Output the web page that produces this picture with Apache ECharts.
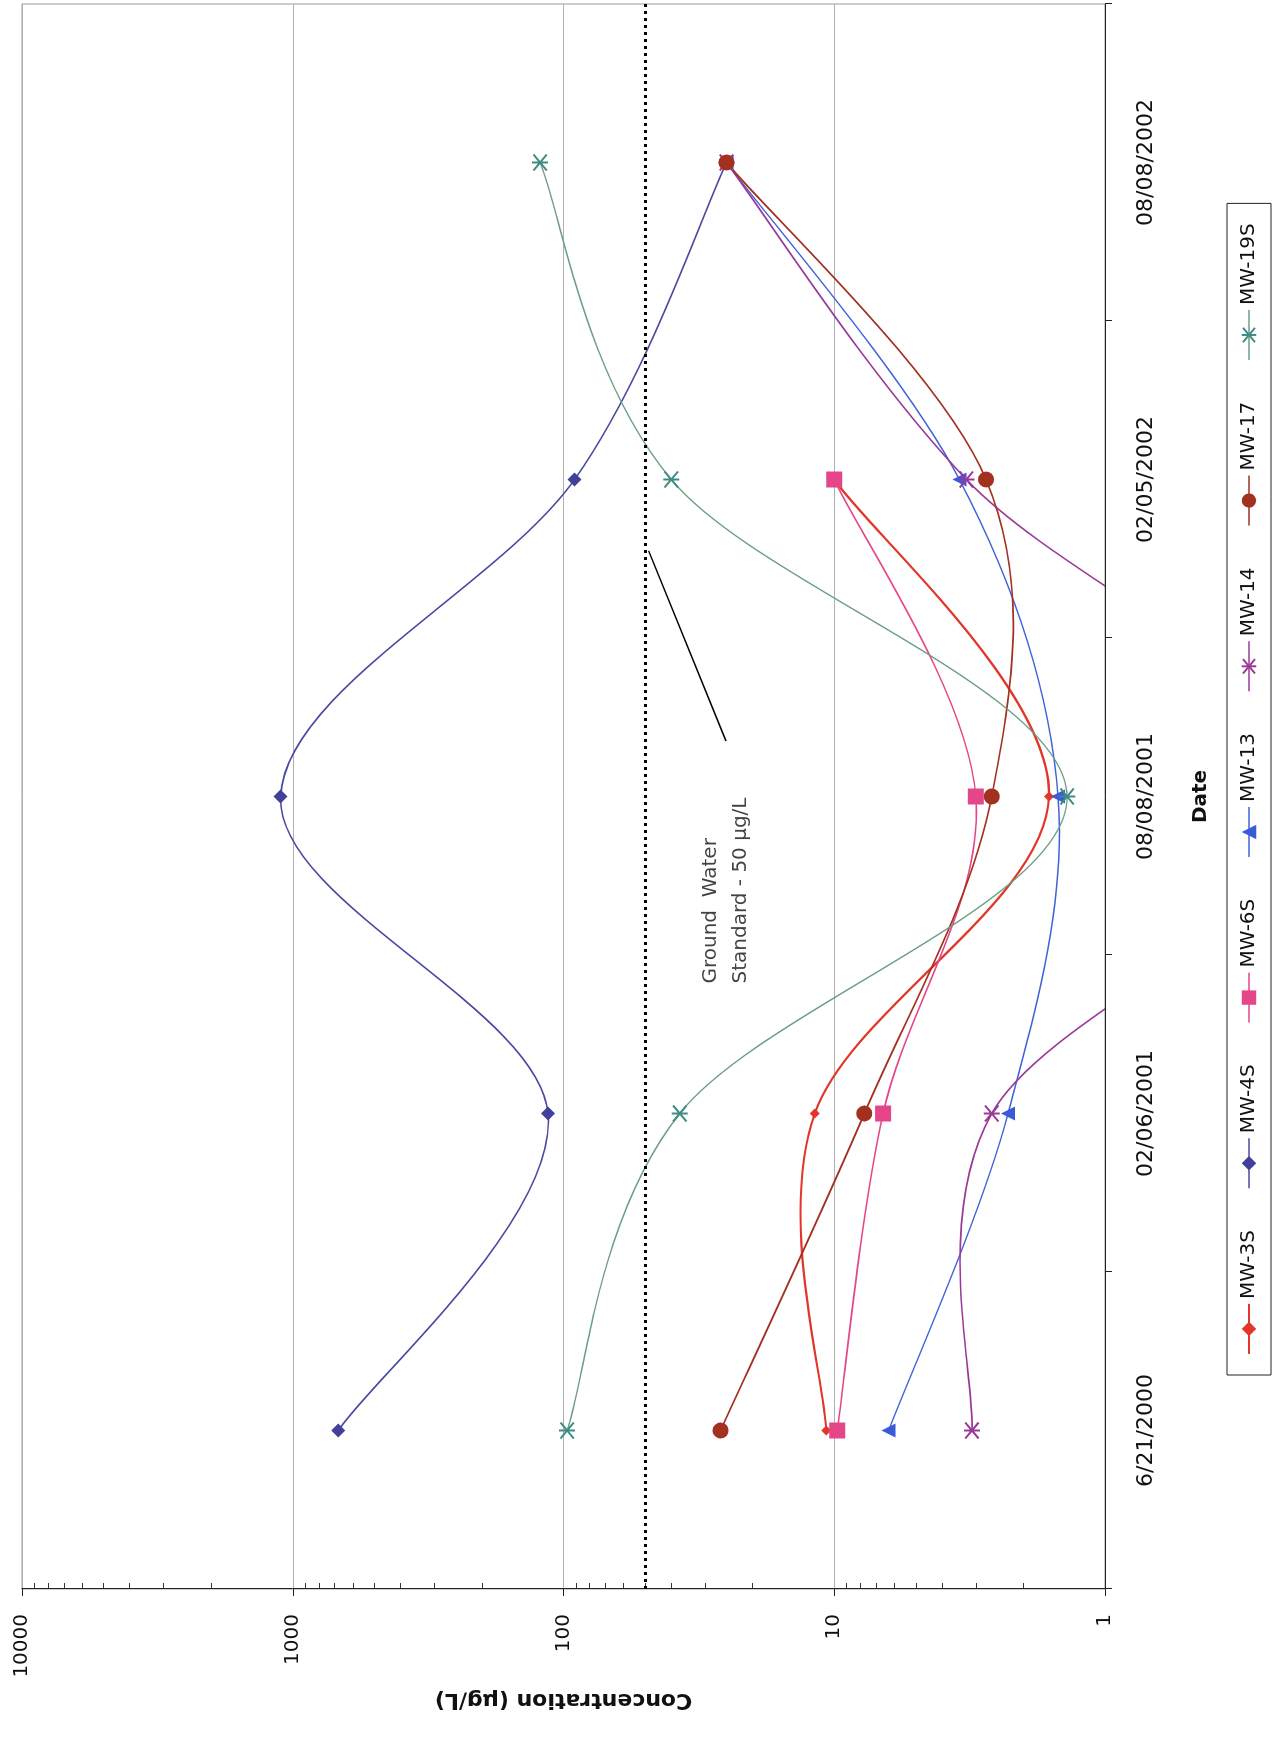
<!DOCTYPE html>
<html>
<head>
<meta charset="utf-8">
<script src="https://cdn.jsdelivr.net/npm/echarts@6/dist/echarts.min.js"></script>
<style>
html,body{margin:0;padding:0;background:#fff;}
#wrap{position:absolute;left:0;top:0;width:1282px;height:1739px;overflow:hidden;background:#fff;}
#chart{position:absolute;left:0;top:0;width:1739px;height:1282px;transform-origin:0 0;transform:translate(0px,1739px) rotate(-90deg);}
</style>
</head>
<body>
<div id="wrap"><div id="chart"></div></div>
<script>
// ---- data ----
const categories = ['6/21/2000', '02/06/2001', '08/08/2001', '02/05/2002', '08/08/2002'];
const mw3s  = [10.7, 11.8, 1.61, 10, null];
const mw4s  = [679, 114, 1109, 91, 25];
const mw6s  = [9.75, 6.6, 3.0, 10, null];
const mw13  = [6.3, 2.28, 1.49, 3.45, 25];
const mw14  = [3.1, 2.62, 0.15, 3.25, 25];
const mw17  = [26.3, 7.74, 2.62, 2.75, 25];
const mw19s = [97, 37.2, 1.38, 40, 122];
const seriesNames = ['MW-3S', 'MW-4S', 'MW-6S', 'MW-13', 'MW-14', 'MW-17', 'MW-19S'];
const standardValue = 50;
const standardText = 'Ground  Water\nStandard - 50 \u00b5g/L';
const leaderLine = [[2.775, 48.5], [2.175, 25.1]];
const leaderTextAnchor = [1.41, 32.4];
const minorFactors = [2, 3, 4, 5, 6, 7, 8, 9];
const decades = [0, 1, 2, 3];

const FONT = 'DejaVu Sans';
const minorTickPositions = [];
decades.forEach(d => minorFactors.forEach(k => minorTickPositions.push(d + Math.log10(k))));

const asterisk = 'path://M0,0L10,10M0,10L10,0M5,-1L5,11';

// marker series (points through the library's axes)
function markers(name, data, color, symbol, size) {
  const isStar = symbol === asterisk;
  return {
    name: name, type: 'line', data: data, smooth: false,
    xAxisIndex: 0, yAxisIndex: 0,
    symbol: symbol, symbolSize: size, showSymbol: true,
    lineStyle: { color: color, width: 1.5, opacity: 0 },
    itemStyle: { color: color, borderColor: color, borderWidth: isStar ? 2 : 0 },
    emphasis: { disabled: true }, z: 4
  };
}
// Excel-like smoothed connecting curve, each point placed with api.coord
function curve(name, arr, color, width) {
  return {
    name: name + ' curve', type: 'custom', xAxisIndex: 1, yAxisIndex: 0,
    clip: true, silent: true, z: 3,
    data: arr.map((v, i) => [i, v]),
    renderItem: function (params, api) {
      const i = params.dataIndex, n = arr.length;
      if (i >= n - 1 || arr[i] == null || arr[i + 1] == null) return null;
      const P = j => api.coord([j, arr[j]]);
      const p1 = P(i), p2 = P(i + 1);
      const p0 = (i - 1 >= 0 && arr[i - 1] != null) ? P(i - 1) : p1;
      const p3 = (i + 2 < n && arr[i + 2] != null) ? P(i + 2) : p2;
      const k = 1 / 6;
      return {
        type: 'bezierCurve',
        shape: {
          x1: p1[0], y1: p1[1], x2: p2[0], y2: p2[1],
          cpx1: p1[0] + (p2[0] - p0[0]) * k, cpy1: p1[1] + (p2[1] - p0[1]) * k,
          cpx2: p2[0] - (p3[0] - p1[0]) * k, cpy2: p2[1] - (p3[1] - p1[1]) * k
        },
        style: { stroke: color, lineWidth: width, fill: 'none' }
      };
    }
  };
}

const defs = [
  { name: 'MW-3S', data: mw3s, color: '#E2362A', line: '#E2362A', symbol: 'diamond', size: 10, width: 2.2 },
  { name: 'MW-4S', data: mw4s, color: '#41409A', line: '#4A49A0', symbol: 'diamond', size: 14, width: 1.6 },
  { name: 'MW-6S', data: mw6s, color: '#E5468A', line: '#E5468A', symbol: 'rect', size: 16, width: 1.6 },
  { name: 'MW-13', data: mw13, color: '#3A5AD8', line: '#3F63DA', symbol: 'triangle', size: 14, width: 1.5 },
  { name: 'MW-14', data: mw14, color: '#9A3A98', line: '#9A3A98', symbol: asterisk, size: 16, width: 1.6 },
  { name: 'MW-17', data: mw17, color: '#A2311F', line: '#A2311F', symbol: 'circle', size: 16, width: 1.7 },
  { name: 'MW-19S', data: mw19s, color: '#3F8C82', line: '#6C9E86', symbol: asterisk, size: 16, width: 1.4 }
];

const series = [];
defs.forEach(d => series.push(markers(d.name, d.data, d.color, d.symbol, d.size)));
defs.forEach(d => series.push(curve(d.name, d.data, d.line, d.width)));
series.push({
  name: 'leader', type: 'line', xAxisIndex: 1, yAxisIndex: 0, data: leaderLine,
  symbol: 'none', lineStyle: { color: '#000', width: 1.5 }, silent: true, z: 2,
  markLine: {
    silent: true, symbol: 'none', label: { show: false },
    lineStyle: { color: '#000', width: 3, type: [3, 4] },
    data: [{ yAxis: standardValue }]
  }
});
series.push({
  name: 'note', type: 'scatter', xAxisIndex: 1, yAxisIndex: 0, data: [leaderTextAnchor],
  symbolSize: 0, silent: true,
  label: {
    show: true, position: [0, 0], align: 'left', verticalAlign: 'top',
    formatter: standardText, fontSize: 20, lineHeight: 30, color: '#111', fontFamily: FONT
  }
});

const chart = echarts.init(document.getElementById('chart'));
const option = {
  animation: false,
  backgroundColor: '#fff',
  textStyle: { fontFamily: FONT },
  grid: { left: 150, right: 4, top: 22, bottom: 177, show: true, borderColor: '#999', borderWidth: 1, containLabel: false },
  legend: {
    data: defs.map(d => ({ name: d.name, lineStyle: { color: d.line, width: d.width, opacity: 1 } })),
    orient: 'horizontal', left: 364, top: 1227,
    itemWidth: 50, itemHeight: 18, itemGap: 41, padding: [12, 20],
    borderColor: '#222', borderWidth: 1, backgroundColor: '#fff',
    textStyle: { fontSize: 20, color: '#111', fontFamily: FONT }
  },
  xAxis: [{
    type: 'category', data: categories, boundaryGap: true, position: 'bottom',
    axisLine: { show: true, onZero: false, lineStyle: { color: '#222', width: 1 } },
    axisTick: { show: true, length: 7, lineStyle: { color: '#222' } },
    axisLabel: { fontSize: 22, margin: 30, color: '#111', interval: 0, fontFamily: FONT },
    splitLine: { show: false },
    name: 'Date', nameLocation: 'middle', nameGap: 86,
    nameTextStyle: { fontSize: 20, fontWeight: 'bold', color: '#111', fontFamily: FONT }
  }, {
    type: 'value', min: -0.5, max: 4.5, show: false
  }],
  yAxis: [{
    type: 'log', logBase: 10, min: 1, max: 10000, interval: 1, position: 'left',
    axisLine: { show: true, onZero: false, lineStyle: { color: '#222', width: 1 } },
    axisTick: { show: true, length: 7, lineStyle: { color: '#222' } },
    axisLabel: { fontSize: 20, margin: 25, color: '#111', fontFamily: FONT, formatter: v => String(Math.round(v)) },
    splitLine: { show: true, lineStyle: { color: '#b0b0b0', width: 1 } },
    name: 'Concentration (\u00b5g/L)', nameLocation: 'middle', nameGap: 69,
    nameTextStyle: { fontSize: 22, fontWeight: 'bold', color: '#111', fontFamily: FONT }
  }, {
    type: 'value', min: 0, max: 4, position: 'left',
    axisLine: { show: false, onZero: false }, axisLabel: { show: false }, splitLine: { show: false },
    axisTick: { show: true, inside: true, length: 6, customValues: minorTickPositions, lineStyle: { color: '#333' } }
  }],
  series: series
};
chart.setOption(option);
</script>
</body>
</html>
